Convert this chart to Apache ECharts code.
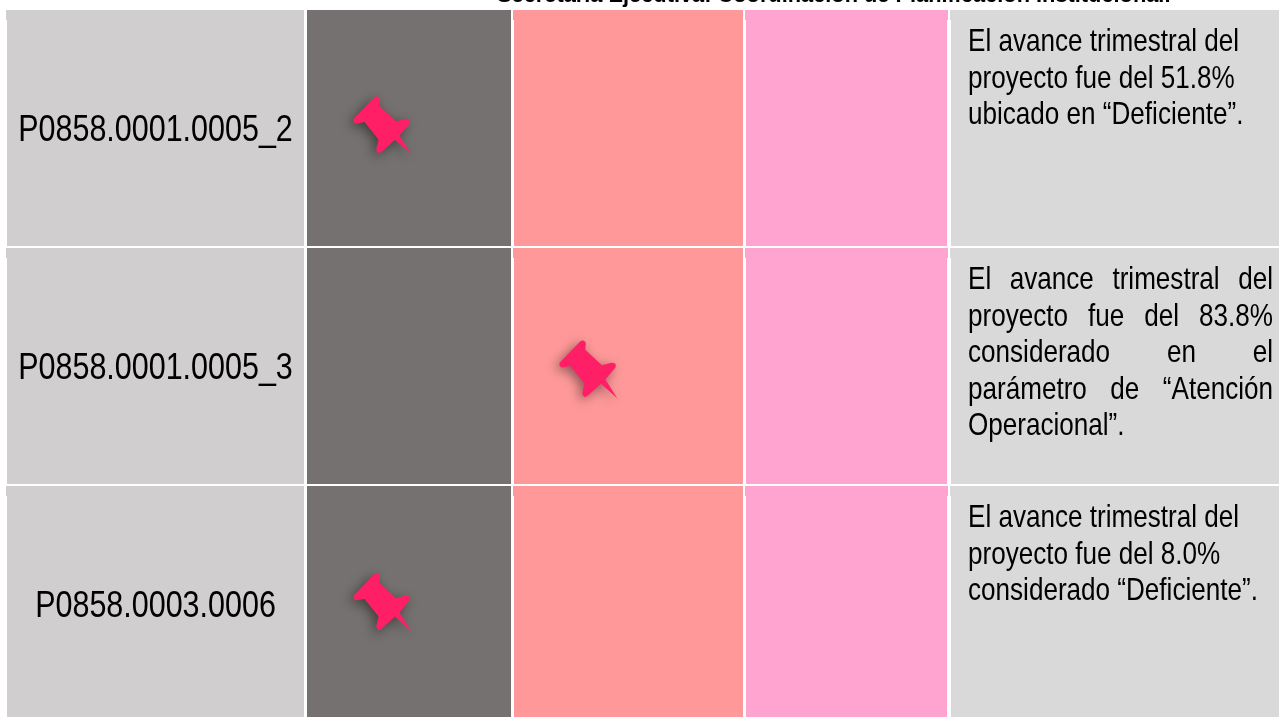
<!DOCTYPE html>
<html>
<head>
<meta charset="utf-8">
<title>Semaforo de proyectos</title>
<style>
    html, body { margin: 0; padding: 0; background: #fff; overflow: hidden; }
    #chart { width: 1279px; height: 717px; }
</style>
<script src="https://cdn.jsdelivr.net/npm/echarts@6/dist/echarts.min.js"></script>
</head>
<body>
<div id="chart"></div>
<script>
var titleText = 'Secretaría Ejecutiva: Coordinación de Planificación Institucional.';
var projects = ['P0858.0001.0005_2', 'P0858.0001.0005_3', 'P0858.0003.0006'];
var pinColumn = [1, 2, 1];
var pinPlace = [0.37, 0.325, 0.37];
var pinRowPlace = [0.49, 0.515, 0.494];
var comments = [
    ['El avance trimestral del', 'proyecto fue del 51.8%', 'ubicado en “Deficiente”.'],
    ['El avance trimestral del', 'proyecto fue del 83.8%', 'considerado en el', 'parámetro de “Atención', 'Operacional”.'],
    ['El avance trimestral del', 'proyecto fue del 8.0%', 'considerado “Deficiente”.']
];
var commentJustified = [false, true, false];

// table layout, x axis runs in page pixels
var columnLeft = [7, 307, 514, 746, 951];
var columnRight = [304, 511, 743, 947, 1279];
var columnColor = ['#d0cece', '#767171', '#ff9999', '#ffa3d1', '#d9d9d9'];
var pinPath = 'path://M162 358 L222 296 Q234 288 240 300 L238 320 L288 366 L316 358 Q334 358 328 372 L298 408 L334 464 L285 420 L246 455 Q232 466 229 448 L236 420 L194 368 L172 372 Q158 372 162 358 Z';

var fontName = '"Liberation Sans", Arial, sans-serif';
var measureCtx = document.createElement('canvas').getContext('2d');

function textWidth(text, size) {
    measureCtx.font = size + 'px ' + fontName;
    return measureCtx.measureText(text).width;
}

function renderCell(params, api) {
    var col = api.value(0);
    var row = api.value(1);
    var start = api.coord([columnLeft[col], row]);
    var end = api.coord([columnRight[col], row + 1]);
    var top = start[1] + 1;
    var height = end[1] - start[1] - 2;
    var fill = columnColor[col];
    var children = [{
        type: 'rect',
        shape: {x: start[0], y: top, width: end[0] - start[0], height: height},
        style: {fill: fill}
    }];
    // the cells in the source picture are cut 1px wider in their top band
    if (col !== 1) {
        children.push({
            type: 'rect',
            shape: {x: start[0] - 1, y: top, width: end[0] - start[0] + (col === 3 ? 2 : 1), height: 10},
            style: {fill: fill}
        });
    }
    return {type: 'group', children: children};
}

function wordText(text, x, y, size, stretch) {
    return {
        type: 'text',
        x: x,
        y: y,
        scaleX: stretch,
        style: {text: text, fill: '#000', fontSize: size, fontFamily: fontName, align: 'left', verticalAlign: 'middle'}
    };
}

function renderProject(params, api) {
    var row = api.value(0);
    var size = 36.5;
    var stretch = 0.835;
    var left = api.coord([columnLeft[0], row + 0.5]);
    var right = api.coord([columnRight[0], row + 0.5]);
    var width = textWidth(projects[row], size) * stretch;
    return wordText(projects[row], (left[0] + right[0]) / 2 - width / 2, left[1] + 3, size, stretch);
}

function renderComment(params, api) {
    var row = api.value(0);
    var size = 30.5;
    var stretch = 0.855;
    var lineStep = 36.5;
    var origin = api.coord([968, row]);
    var rightEdge = api.coord([1273, row])[0];
    var children = [];
    comments[row].forEach(function (line, i) {
        var y = origin[1] + 34 + i * lineStep;
        var words = line.split(' ');
        var isLast = i === comments[row].length - 1;
        if (!commentJustified[row] || isLast) {
            children.push(wordText(line, origin[0], y, size, stretch));
            return;
        }
        var used = 0;
        words.forEach(function (w) { used += textWidth(w, size) * stretch; });
        var gap = (rightEdge - origin[0] - used) / (words.length - 1);
        var x = origin[0];
        words.forEach(function (w) {
            children.push(wordText(w, x, y, size, stretch));
            x += textWidth(w, size) * stretch + gap;
        });
    });
    return {type: 'group', children: children};
}

var cellData = [];
var rowData = [];
var pinData = [];
for (var r = 0; r < projects.length; r++) {
    rowData.push([r]);
    for (var c = 0; c < columnLeft.length; c++) {
        cellData.push([c, r]);
    }
    var pc = pinColumn[r];
    pinData.push([columnLeft[pc] + pinPlace[r] * (columnRight[pc] - columnLeft[pc]), r + pinRowPlace[r]]);
}

var option = {
    animation: false,
    backgroundColor: '#fff',
    title: {
        text: titleText,
        left: 492,
        top: -20,
        textStyle: {fontFamily: fontName, fontWeight: 'bold', fontSize: 21.8, color: '#000'}
    },
    grid: {left: 0, right: 0, top: 9, bottom: 0},
    xAxis: {type: 'value', min: 0, max: 1279, show: false},
    // last row runs past the bottom of the page, so the axis stops short of 3
    yAxis: {type: 'value', min: 0, max: 2.975, inverse: true, show: false},
    series: [
        {type: 'custom', data: cellData, renderItem: renderCell, silent: true, clip: false},
        {type: 'custom', data: rowData, renderItem: renderProject, silent: true, clip: false, encode: {x: -1, y: -1}},
        {type: 'custom', data: rowData, renderItem: renderComment, silent: true, clip: false, encode: {x: -1, y: -1}},
        {
            type: 'scatter',
            data: pinData,
            symbol: pinPath,
            symbolSize: 58,
            silent: true,
            itemStyle: {
                color: '#ff1f67',
                opacity: 1,
                shadowBlur: 12,
                shadowColor: 'rgba(0, 0, 0, 0.45)',
                shadowOffsetX: -3,
                shadowOffsetY: 3
            }
        }
    ]
};

var myChart = echarts.init(document.getElementById('chart'));
myChart.setOption(option);
</script>
</body>
</html>
